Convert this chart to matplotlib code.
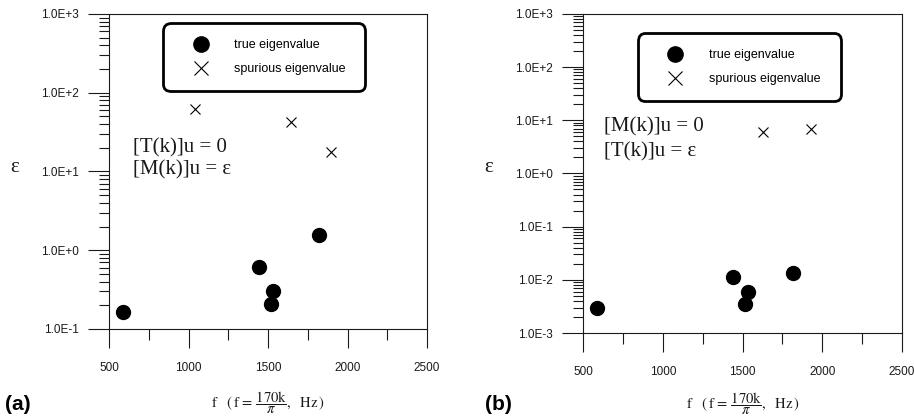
import numpy as np
import matplotlib
matplotlib.use('Agg')
import matplotlib.pyplot as plt
from matplotlib.ticker import MultipleLocator, LogLocator, FuncFormatter, NullFormatter

plt.rcParams['font.family'] = ['Liberation Sans', 'DejaVu Sans']
plt.rcParams['mathtext.fontset'] = 'stix'

# panel (a): [T(k)]u = 0, [M(k)]u = eps
freq_true_a = [588, 1441, 1517, 1534, 1823]
eps_true_a = [0.163, 0.61, 0.205, 0.306, 1.56]
freq_spur_a = [1042, 1645, 1897]
eps_spur_a = [62.4, 41.9, 17.8]

# panel (b): [M(k)]u = 0, [T(k)]u = eps
freq_true_b = [588, 1440, 1514, 1532, 1815]
eps_true_b = [0.0030, 0.0112, 0.00347, 0.0059, 0.0133]
freq_spur_b = [1626, 1929]
eps_spur_b = [5.93, 6.95]

x_ticks = [500, 1000, 1500, 2000, 2500]
legend_labels = ['true eigenvalue', 'spurious eigenvalue']
INK = '#1a1a1a'


def exp_fmt(v, pos):
    return '1.0E%+d' % int(round(np.log10(v)))


def style_axes(ax, ylo, yhi):
    ax.set_yscale('log')
    ax.set_xlim(x_ticks[0], x_ticks[-1])
    ax.set_ylim(ylo, yhi)
    ax.set_xticks(x_ticks)
    ax.xaxis.set_minor_locator(MultipleLocator(250))
    ax.yaxis.set_major_locator(LogLocator(base=10, numticks=20))
    ax.yaxis.set_minor_locator(LogLocator(base=10, subs=np.arange(2, 10), numticks=20))
    ax.yaxis.set_major_formatter(FuncFormatter(exp_fmt))
    ax.yaxis.set_minor_formatter(NullFormatter())
    for s in ax.spines.values():
        s.set_linewidth(0.8)
        s.set_color(INK)
    ax.tick_params(axis='both', which='both', direction='out', color=INK,
                   labelcolor=INK, labelsize=8.5, width=0.8)
    ax.tick_params(axis='y', which='major', length=15, pad=7)
    ax.tick_params(axis='y', which='minor', length=7)
    ax.tick_params(axis='x', which='major', length=14, pad=10)
    ax.tick_params(axis='x', which='minor', length=8)


def add_legend(ax, anchor):
    leg = ax.legend(legend_labels, loc='upper left', bbox_to_anchor=anchor,
                    mode='expand', fontsize=9, numpoints=1,
                    handlelength=3.4, handletextpad=1.0, labelspacing=0.95,
                    borderpad=1.3, borderaxespad=0, fancybox=True,
                    edgecolor='black', framealpha=1)
    frame = leg.get_frame()
    frame.set_linewidth(2.0)
    frame.set_boxstyle('round,pad=0,rounding_size=0.6')
    handles = leg.legend_handles
    handles[0].set_markersize(11)
    handles[1].set_markersize(10)
    handles[1].set_markeredgewidth(0.8)
    return leg


fig = plt.figure(figsize=(9.14, 4.2), dpi=100)
ax_a = fig.add_axes([0.1193, 0.2167, 0.348, 0.75])
ax_b = fig.add_axes([0.638, 0.207, 0.349, 0.76])

for ax, ft, et, fs, es in [(ax_a, freq_true_a, eps_true_a, freq_spur_a, eps_spur_a),
                           (ax_b, freq_true_b, eps_true_b, freq_spur_b, eps_spur_b)]:
    ax.plot(ft, et, ls='none', marker='o', ms=10, color='black')
    ax.plot(fs, es, ls='none', marker='x', ms=7, mew=0.8, color='black')

style_axes(ax_a, 0.1, 1000)
style_axes(ax_b, 0.001, 1000)
add_legend(ax_a, (0.17, 0.743, 0.635, 0.228))
add_legend(ax_b, (0.172, 0.755, 0.637, 0.185))

eq_kw = dict(family='Liberation Serif', fontsize=15, color=INK, va='center', ha='left')
ax_a.text(0.075, 0.575, '[T(k)]u = 0', transform=ax_a.transAxes, **eq_kw)
ax_a.text(0.075, 0.505, '[M(k)]u = \u03b5', transform=ax_a.transAxes, **eq_kw)
ax_b.text(0.066, 0.646, '[M(k)]u = 0', transform=ax_b.transAxes, **eq_kw)
ax_b.text(0.066, 0.567, '[T(k)]u = \u03b5', transform=ax_b.transAxes, **eq_kw)

xlab = r'$\mathrm{f}\quad(\,\mathrm{f}\,=\,\dfrac{170\mathrm{k}}{\pi},\ \ \mathrm{Hz}\,)$'
ax_a.text(0.5, -0.235, xlab, transform=ax_a.transAxes, ha='center', va='center',
          fontsize=10.5, color=INK)
ax_b.text(0.5, -0.22, xlab, transform=ax_b.transAxes, ha='center', va='center',
          fontsize=10.5, color=INK)

fig.text(15 / 914, 1 - 168 / 420, '\u03b5', family='Liberation Serif', fontsize=15,
         ha='center', va='center', color=INK)
fig.text(489 / 914, 1 - 168 / 420, '\u03b5', family='Liberation Serif', fontsize=15,
         ha='center', va='center', color=INK)
fig.text(5 / 914, 1 - 404 / 420, '(a)', fontsize=15, fontweight='bold', va='center')
fig.text(485 / 914, 1 - 405 / 420, '(b)', fontsize=15, fontweight='bold', va='center')

fig.savefig('out.png', dpi=100, facecolor='white')
